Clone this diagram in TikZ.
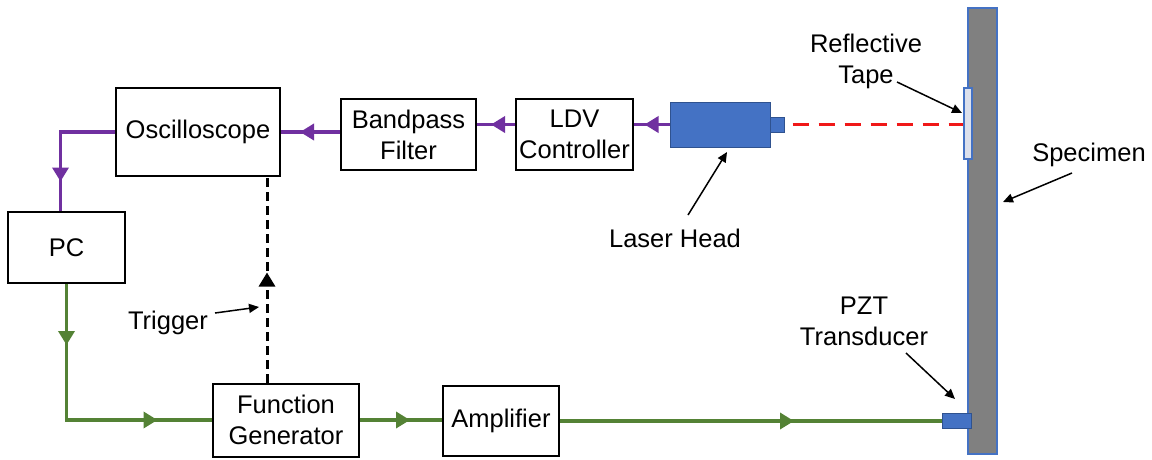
\documentclass[tikz,border=0pt]{standalone}
\usepackage{fontspec}
\setmainfont{Liberation Sans}
\usetikzlibrary{arrows.meta,decorations.markings,calc}
\definecolor{lpurple}{HTML}{7030A0}
\definecolor{lgreen}{HTML}{548235}
\definecolor{lblue}{HTML}{4472C4}
\definecolor{dblue}{HTML}{2F528F}
\definecolor{sgray}{HTML}{808080}
\definecolor{tapefill}{HTML}{DCE0EC}
\definecolor{beamred}{HTML}{F01818}
\begin{document}
\begin{tikzpicture}[x=1pt,y=-1pt,
  font=\fontsize{25.5}{31}\selectfont,
  box/.style={draw=black,line width=2pt,fill=white,inner sep=0pt,align=center},
  bluepart/.style={draw=dblue,line width=1pt,fill=lblue,inner sep=0pt},
  specpart/.style={draw=lblue,line width=1.5pt,fill=sgray,inner sep=0pt},
  tapepart/.style={draw=lblue,line width=1.2pt,fill=tapefill,inner sep=0pt},
  label/.style={align=center,inner sep=0pt},
  pline/.style={color=lpurple,line width=3.5pt},
  gline/.style={color=lgreen,line width=3.5pt},
  trigline/.style={color=black,line width=3pt,dash pattern=on 9pt off 5pt},
  beam/.style={color=beamred,line width=3.4pt,dash pattern=on 16pt off 10pt},
  ann/.style={color=black,line width=1.5pt,-{Triangle[length=10pt,width=9pt]}},
  midarrow/.style={postaction={decorate,decoration={markings,
      mark=at position #1 with {\arrow{Triangle[length=14pt,width=16pt]}}}}}
]
\useasboundingbox (0,0) rectangle (1152,459);

% specimen and attachments
\node[specpart,minimum width=29pt,minimum height=446pt] (spec) at (982.5,231) {};
\node[tapepart,minimum width=8pt,minimum height=71pt] (tape) at (968,123.5) {};
\node[bluepart,minimum width=29pt,minimum height=15pt] (pzt) at (956.5,421) {};

% laser head
\node[bluepart,minimum width=100pt,minimum height=45pt] (laser) at (720,124.5) {};
\node[bluepart,minimum width=14pt,minimum height=15pt] (nose) at (777,124.5) {};

% boxes
\node[box,minimum width=164pt,minimum height=88pt] (osc) at (198,132) {Oscilloscope};
\node[box,minimum width=135pt,minimum height=71pt] (bp) at (408.5,134.5) {Bandpass\\Filter};
\node[box,minimum width=117pt,minimum height=71pt] (ldv) at (574.5,134.5) {LDV\\Controller};
\node[box,minimum width=117pt,minimum height=71pt] (pc) at (66.5,247.5) {PC};
\node[box,minimum width=146pt,minimum height=73pt] (fg) at (286,420) {Function\\Generator};
\node[box,minimum width=116pt,minimum height=70pt] (amp) at (501,421) {Amplifier};

% purple signal chain
\draw[pline,midarrow=25pt] (laser.west) -- (ldv.east |- laser.west);
\draw[pline,midarrow=24pt] (ldv.west |- laser.west) -- (bp.east |- laser.west);
\draw[pline,midarrow=40pt] (bp.west |- osc.east) -- (osc.east);
\draw[pline,midarrow=104pt] (osc.west) -- ($(osc.west -| pc.north)+(-6,0)$) -- ($(pc.north)+(-6,0)$);

% green excitation chain
\draw[gline,midarrow=61pt,postaction={decorate,decoration={markings,
      mark=at position 227pt with {\arrow{Triangle[length=14pt,width=16pt]}}}}]
  (pc.south) -- (pc.south |- fg.west) -- (fg.west);
\draw[gline,midarrow=50pt] (fg.east) -- (amp.west |- fg.east);
\draw[gline,midarrow=234pt] (amp.east |- pzt.west) -- (pzt.west);

% trigger
\draw[trigline,midarrow=110pt] ([xshift=-19pt]fg.north) -- ([xshift=69pt]osc.south);

% laser beam
\draw[beam] ([xshift=8pt]nose.east) -- (tape.west |- nose.east);

% labels
\node[label] (rtl) at (866,61) {Reflective\\Tape};
\node[label] (spl) at (1089,155) {Specimen};
\node[label] (lhl) at (675,238) {Laser Head};
\node[label] (trl) at (168,323) {Trigger};
\node[label] (pztl) at (864,321) {PZT\\Transducer};

% annotation arrows
\coordinate (rt1) at (897,82);   \coordinate (rt2) at (962,113);
\coordinate (sp1) at (1072,173); \coordinate (sp2) at (1003,202);
\coordinate (lh1) at (688,215);  \coordinate (lh2) at (727,152);
\coordinate (tr1) at (215,313);  \coordinate (tr2) at (259,307);
\coordinate (pz1) at (906,353);  \coordinate (pz2) at (955,399);
\draw[ann] (rt1) -- (rt2);
\draw[ann] (sp1) -- (sp2);
\draw[ann] (lh1) -- (lh2);
\draw[ann] (tr1) -- (tr2);
\draw[ann] (pz1) -- (pz2);
\end{tikzpicture}
\end{document}
